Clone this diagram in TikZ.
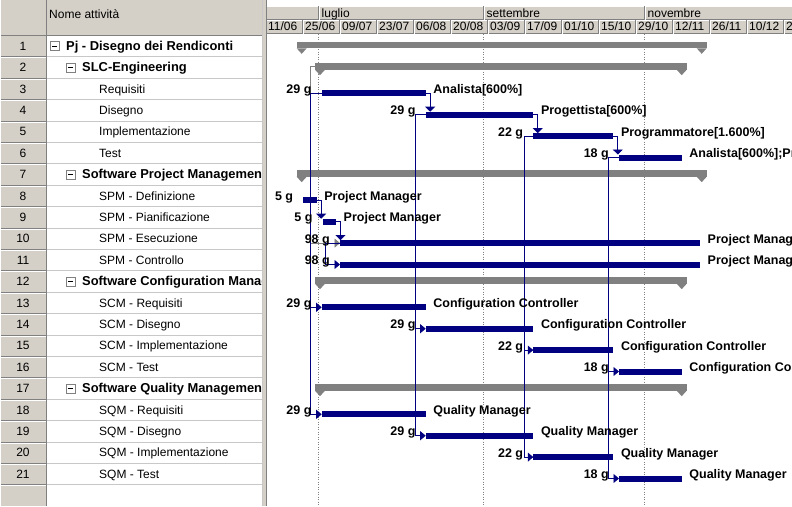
\documentclass[tikz,border=0pt]{standalone}
\usepackage{fontspec}
\setmainfont{Liberation Sans}
\usetikzlibrary{arrows.meta,calc}

\definecolor{winface}{HTML}{D4D0C8}
\definecolor{winshadow}{HTML}{808080}
\definecolor{barnavy}{HTML}{000080}
\definecolor{sumgray}{HTML}{808080}
\definecolor{gridgray}{HTML}{C8C8C8}

\tikzset{
  regtxt/.style={anchor=base west, inner sep=0pt, font=\fontsize{12}{14}\selectfont},
  boldtxt/.style={anchor=base west, inner sep=0pt, font=\bfseries\fontsize{12.9}{14}\selectfont},
  numtxt/.style={anchor=base, inner sep=0pt, font=\fontsize{12}{14}\selectfont},
  minusbox/.style={draw=winshadow, fill=white, line width=0.6pt, minimum size=9pt, inner sep=0pt,
    path picture={\draw[black, line width=0.7pt]
      ([xshift=-2.5pt]path picture bounding box.center) -- ([xshift=2.5pt]path picture bounding box.center);}},
  taskbar/.style={fill=barnavy, minimum height=6pt, inner sep=0pt, outer sep=0pt, anchor=west},
  sumbar/.style={fill=sumgray, minimum height=6.6pt, inner sep=0pt, outer sep=0pt, anchor=west},
  durlbl/.style={anchor=base east, inner sep=0pt, font=\bfseries\fontsize{12.5}{14}\selectfont},
  reslbl/.style={anchor=base west, inner sep=0pt, font=\bfseries\fontsize{12.5}{14}\selectfont},
  link/.style={draw=barnavy, line width=0.8pt},
  graylink/.style={draw=sumgray, line width=0.8pt},
  fsarrow/.style={-{Triangle[width=10pt,length=5pt]}},
  ssarrow/.style={-{Triangle[width=9pt,length=5.5pt]}},
  monthline/.style={draw=winshadow, line width=0.6pt, dash pattern=on 1pt off 1.5pt},
}

\newcommand{\sumends}[1]{%
  \fill[sumgray] (#1.south west) -- ++(10,0) -- ++(-5,5.5) -- cycle;
  \fill[sumgray] (#1.south east) -- ++(-10,0) -- ++(5,5.5) -- cycle;}

\begin{document}
\begin{tikzpicture}[x=1pt,y=-1pt]
\useasboundingbox (0,0) rectangle (792,506);
\clip (0,0) rectangle (792,506);
\fill[white] (0,0) rectangle (792,506);

% ---------- task table ----------
\fill[winface] (0,0) rectangle (46,506);
\fill[winface] (46,0) rectangle (262,35.3);
\draw[winshadow, line width=0.6pt] (0,35.3) -- (262,35.3);
\foreach \i in {1,...,21} {
  \pgfmathsetmacro\yy{35.3+\i*21.4}
  \draw[gridgray, line width=0.6pt] (46,\yy) -- (262,\yy);
  \draw[winshadow, line width=0.6pt] (0,\yy) -- (46,\yy);
  \draw[white, line width=0.6pt] (0,\yy+1) -- (46,\yy+1);
}
\draw[winshadow, line width=0.8pt] (46,0) -- (46,506);
\draw[white, line width=0.6pt] (0.5,0) -- (0.5,506);
% splitter between table and chart
\draw[gridgray, line width=0.6pt] (262.5,0) -- (262.5,506);
\fill[winface] (263,0) rectangle (267,506);
\draw[winshadow, line width=0.6pt] (266.7,0) -- (266.7,506);

\node[regtxt] (hdrname) at (49,18.5) {Nome attività};

% row numbers
\foreach \i in {1,...,21} {
  \pgfmathsetmacro\yy{46+(\i-1)*21.4+4.3}
  \node[numtxt] (n\i) at (23,\yy) {\i};
}

\begin{scope}
\clip (46,35.3) rectangle (261.5,506);
\node[minusbox] (m1) at (54.5,46) {};
\node[boldtxt] (t1) at (66,50.5) {Pj - Disegno dei Rendiconti};
\node[minusbox] (m2) at (70.5,67.4) {};
\node[boldtxt] (t2) at (82,71.9) {SLC-Engineering};
\node[regtxt] (t3) at (99,93.1) {Requisiti};
\node[regtxt] (t4) at (99,114.5) {Disegno};
\node[regtxt] (t5) at (99,135.9) {Implementazione};
\node[regtxt] (t6) at (99,157.3) {Test};
\node[minusbox] (m7) at (70.5,174.4) {};
\node[boldtxt] (t7) at (82,178.9) {Software Project Management};
\node[regtxt] (t8) at (99,200.1) {SPM - Definizione};
\node[regtxt] (t9) at (99,221.5) {SPM - Pianificazione};
\node[regtxt] (t10) at (99,242.9) {SPM - Esecuzione};
\node[regtxt] (t11) at (99,264.3) {SPM - Controllo};
\node[minusbox] (m12) at (70.5,281.4) {};
\node[boldtxt] (t12) at (82,285.9) {Software Configuration Management};
\node[regtxt] (t13) at (99,307.1) {SCM - Requisiti};
\node[regtxt] (t14) at (99,328.5) {SCM - Disegno};
\node[regtxt] (t15) at (99,349.9) {SCM - Implementazione};
\node[regtxt] (t16) at (99,371.3) {SCM - Test};
\node[minusbox] (m17) at (70.5,388.4) {};
\node[boldtxt] (t17) at (82,392.9) {Software Quality Management};
\node[regtxt] (t18) at (99,414.1) {SQM - Requisiti};
\node[regtxt] (t19) at (99,435.5) {SQM - Disegno};
\node[regtxt] (t20) at (99,456.9) {SQM - Implementazione};
\node[regtxt] (t21) at (99,478.3) {SQM - Test};
\end{scope}

% ---------- timescale ----------
\fill[winface] (267,6) rectangle (792,33.5);
\draw[white, line width=0.6pt] (267,6.5) -- (792,6.5);
\draw[winshadow, line width=0.6pt] (267,19.5) -- (792,19.5);
\draw[white, line width=0.6pt] (267,20.4) -- (792,20.4);
\draw[winshadow, line width=0.6pt] (267,33.5) -- (792,33.5);
\foreach \mx in {318,483,644} {
  \draw[winshadow, line width=0.6pt] (\mx,6) -- (\mx,19.5);
  \draw[white, line width=0.6pt] (\mx+0.9,6) -- (\mx+0.9,19.5);
}
\foreach \k in {0,...,13} {
  \draw[winshadow, line width=0.6pt] (302+37*\k,19.5) -- (302+37*\k,33.5);
  \draw[white, line width=0.6pt] (302.9+37*\k,20.4) -- (302.9+37*\k,33.5);
}
\node[regtxt] (mon1) at (321.5,17) {luglio};
\node[regtxt] (mon2) at (486.5,17) {settembre};
\node[regtxt] (mon3) at (647.5,17) {novembre};
\foreach \d [count=\k from 0] in {11/06,25/06,09/07,23/07,06/08,20/08,03/09,17/09,01/10,15/10,29/10,12/11,26/11,10/12,24/12} {
  \node[regtxt] (day\k) at (268+37*\k,30.5) {\d};
}

% month boundaries through the chart
\foreach \mx in {318,483,644} {
  \draw[monthline] (\mx,34) -- (\mx,506);
}

% ---------- summary bars ----------
\node[sumbar, minimum width=410pt] (s1) at (296.7,45) {};
\node[sumbar, minimum width=371.7pt] (s2) at (315,66.4) {};
\node[sumbar, minimum width=410pt] (s7) at (296.7,173.4) {};
\node[sumbar, minimum width=371.7pt] (s12) at (315,280.4) {};
\node[sumbar, minimum width=371.7pt] (s17) at (315,387.4) {};
\sumends{s1}\sumends{s2}\sumends{s7}\sumends{s12}\sumends{s17}

% ---------- task bars ----------
\node[taskbar, minimum width=104pt] (b3) at (321.7,93.3) {};
\node[taskbar, minimum width=107.6pt] (b4) at (425.7,114.7) {};
\node[taskbar, minimum width=80pt] (b5) at (533.3,136.1) {};
\node[taskbar, minimum width=62.7pt] (b6) at (619,157.5) {};
\node[taskbar, minimum width=13.4pt] (b8) at (303.3,200.3) {};
\node[taskbar, minimum width=13.3pt] (b9) at (322.7,221.7) {};
\node[taskbar, minimum width=360pt] (b10) at (340,243.1) {};
\node[taskbar, minimum width=360pt] (b11) at (340,264.5) {};
\node[taskbar, minimum width=104pt] (b13) at (321.7,307.3) {};
\node[taskbar, minimum width=107.6pt] (b14) at (425.7,328.7) {};
\node[taskbar, minimum width=80pt] (b15) at (533.3,350.1) {};
\node[taskbar, minimum width=62.7pt] (b16) at (619,371.5) {};
\node[taskbar, minimum width=104pt] (b18) at (321.7,414.3) {};
\node[taskbar, minimum width=107.6pt] (b19) at (425.7,435.7) {};
\node[taskbar, minimum width=80pt] (b20) at (533.3,457.1) {};
\node[taskbar, minimum width=62.7pt] (b21) at (619,478.5) {};

% ---------- links ----------
\coordinate (v3) at ([xshift=-11.2pt]b3.west);
\coordinate (v4) at ([xshift=-10.7pt]b4.west);
\coordinate (v5) at ([xshift=-9pt]b5.west);
\coordinate (v6) at ([xshift=-10.7pt]b6.west);
\coordinate (v10) at ([xshift=-15pt]b10.west);

% summary start link (grey)
\draw[graylink, ssarrow] (s2.west) -- (v3 |- s2.west) -- (v3 |- b10.west) -- (b10.west);

% start-to-start links
\draw[link, ssarrow] (b3.west) -- (v3) -- (v3 |- b18.west) -- (b18.west);
\draw[link, ssarrow] (v3 |- b13.west) -- (b13.west);
\draw[link, ssarrow] (b4.west) -- (v4) -- (v4 |- b19.west) -- (b19.west);
\draw[link, ssarrow] (v4 |- b14.west) -- (b14.west);
\draw[link, ssarrow] (b5.west) -- (v5) -- (v5 |- b20.west) -- (b20.west);
\draw[link, ssarrow] (v5 |- b15.west) -- (b15.west);
\draw[link, ssarrow] (b6.west) -- (v6) -- (v6 |- b21.west) -- (b21.west);
\draw[link, ssarrow] (v6 |- b16.west) -- (b16.west);
\draw[link, ssarrow] (b10.west) -- (v10) -- (v10 |- b11.west) -- (b11.west);

% finish-to-start links
\foreach \a/\b in {b3/b4, b4/b5, b5/b6, b8/b9, b9/b10} {
  \coordinate (f\a) at ([xshift=4.5pt]\a.east);
  \draw[link, fsarrow] (\a.east) -- (f\a) -- (f\a |- \b.north);
}

% ---------- bar labels ----------
\foreach \b/\d/\r in {
  b3/29 g/{Analista[600\%]},
  b4/29 g/{Progettista[600\%]},
  b5/22 g/{Programmatore[1.600\%]},
  b6/18 g/{Analista[600\%];Pr},
  b8/5 g/{Project Manager},
  b9/5 g/{Project Manager},
  b10/98 g/{Project Manager},
  b11/98 g/{Project Manager},
  b13/29 g/{Configuration Controller},
  b14/29 g/{Configuration Controller},
  b15/22 g/{Configuration Controller},
  b16/18 g/{Configuration Controller},
  b18/29 g/{Quality Manager},
  b19/29 g/{Quality Manager},
  b20/22 g/{Quality Manager},
  b21/18 g/{Quality Manager}} {
  \node[durlbl] (d\b) at ([xshift=-10pt]\b.west) {\d};
  \node[reslbl] (r\b) at ([xshift=7.5pt]\b.east) {\r};
}
\end{tikzpicture}
\end{document}
